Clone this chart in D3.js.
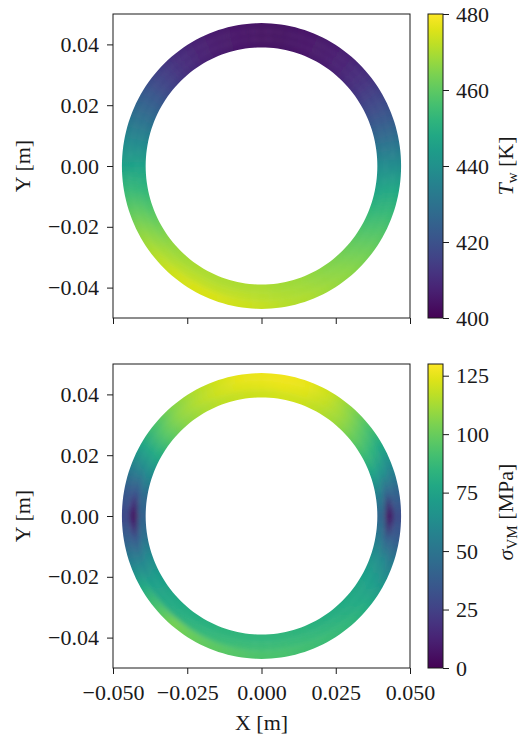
<!DOCTYPE html>
<html>
<head>
<meta charset="utf-8">
<script src="https://cdn.jsdelivr.net/npm/d3@7"></script>
<style>
  body { margin: 0; background: #fff; }
  svg text { font-family: "Liberation Serif", "Times New Roman", Times, serif; fill: #1a1a1a; }
</style>
</head>
<body>
<svg id="fig" width="520" height="738" font-family="Liberation Serif, serif"></svg>
<script>
// Angular positions of the sampled wall values (degrees, clockwise from the +Y axis)
const angles = [0,10,20,30,40,50,60,70,80,90,100,110,120,130,140,150,160,170,
                180,190,200,210,220,230,240,250,260,270,280,290,300,310,320,330,340,350];

// Wall temperature T_w [K] at the inner, middle and outer wall layers
const tempInner = [404,404,405,406,408,411,416,422,430,439,446,452,457,461,464,466,468,469,
                   470,470,470,470,469,467,463,458,452,446,438,430,423,416,411,408,406,405];
const tempMid   = [404,404,405,406,408,411,416,422,430,439,447,453,458,462,465,467,469,470,
                   471,472,472,472,471,469,465,460,453,446,438,430,423,416,411,408,406,405];
const tempOuter = [404,404,405,406,408,411,416,422,430,439,448,454,459,463,466,468,470,471,
                   473,474,475,475,474,471,467,461,454,446,438,430,423,416,411,408,406,405];

// Von Mises stress sigma_VM [MPa] at the same layers
const stressInner = [120,121,120,116,110,100,88,74,55,42,52,66,74,78,80,82,84,85,
                     85,85,84,82,80,77,72,62,48,40,45,62,80,96,107,113,117,119];
const stressMid   = [124,125,123,118,110,98,84,68,42,5,40,62,72,78,82,85,87,88,
                     88,88,87,85,82,78,72,58,36,4,34,58,78,96,108,115,120,123];
const stressOuter = [126,127,125,119,108,94,78,60,42,30,38,55,70,80,85,88,90,92,
                     93,95,97,100,103,92,78,58,40,28,36,55,76,93,106,114,120,125];

// Axis ticks
const xTicks = [-0.05, -0.025, 0, 0.025, 0.05];
const yTicks = [-0.04, -0.02, 0, 0.02, 0.04];
const tempTicks = [400, 420, 440, 460, 480];
const stressTicks = [0, 25, 50, 75, 100, 125];

// Pipe wall geometry [m]
const rInner = 0.039, rOuter = 0.047;
const layerEdges = [0.034, 0.0417, 0.0443, 0.052]; // padded beyond the wall so the clip gives clean edges

const svg = d3.select("#fig");
const defs = svg.append("defs");
defs.append("filter").attr("id", "soft")
  .attr("x", "-10%").attr("y", "-10%").attr("width", "120%").attr("height", "120%")
  .append("feGaussianBlur").attr("stdDeviation", 2.5);

const plotLeft = 113, plotRight = 410;
const cbX = 428, cbW = 15;
const fontSize = 22;
const serif = '"Liberation Serif", "Times New Roman", Times, serif';

const panels = [
  { key: "temp", top: 14, bottom: 318, layers: [tempInner, tempMid, tempOuter],
    cdomain: [400, 480], cticks: tempTicks, xLabels: false },
  { key: "stress", top: 364, bottom: 668, layers: [stressInner, stressMid, stressOuter],
    cdomain: [0, 130], cticks: stressTicks, xLabels: true }
];

panels.forEach(p => {
  const x = d3.scaleLinear().domain([-0.05, 0.05]).range([plotLeft, plotRight]);
  const y = d3.scaleLinear().domain([-0.05, 0.05]).range([p.bottom, p.top]);
  const color = d3.scaleSequential(d3.interpolateViridis).domain(p.cdomain);
  const pt = (r, deg) => {
    const a = deg * Math.PI / 180;
    return [x(r * Math.sin(a)), y(r * Math.cos(a))];
  };

  // Annulus clip
  const ring = (r, dir) => d3.range(0, 361, 2).map(d => pt(r, dir > 0 ? d : 360 - d));
  const loop = pts => "M" + pts.map(q => q.join(",")).join("L") + "Z";
  defs.append("clipPath").attr("id", "clip-" + p.key)
    .append("path")
    .attr("clip-rule", "evenodd")
    .attr("d", loop(ring(rOuter, 1)) + loop(ring(rInner, -1)));

  const field = svg.append("g").attr("clip-path", `url(#clip-${p.key})`)
    .append("g").attr("filter", "url(#soft)");

  p.layers.forEach((vals, li) => {
    const r0 = layerEdges[li], r1 = layerEdges[li + 1];
    const rm = li === 0 ? (rInner + layerEdges[1]) / 2 : li === 2 ? (layerEdges[2] + rOuter) / 2 : (r0 + r1) / 2;
    angles.forEach((a0, i) => {
      const j = (i + 1) % angles.length;
      const a1 = a0 + ((angles[j] - a0 + 360) % 360);
      const gid = `g-${p.key}-${li}-${i}`;
      const g0 = pt(rm, a0), g1 = pt(rm, a1);
      const grad = defs.append("linearGradient").attr("id", gid)
        .attr("gradientUnits", "userSpaceOnUse")
        .attr("x1", g0[0]).attr("y1", g0[1]).attr("x2", g1[0]).attr("y2", g1[1]);
      grad.append("stop").attr("offset", 0).attr("stop-color", color(vals[i]));
      grad.append("stop").attr("offset", 1).attr("stop-color", color(vals[j]));
      const s0 = a0 - 0.4, s1 = a1 + 0.4;
      const outer = d3.range(0, 7).map(k => pt(r1, s0 + (s1 - s0) * k / 6));
      const inner = d3.range(0, 7).map(k => pt(r0, s1 - (s1 - s0) * k / 6));
      field.append("path")
        .attr("d", loop(outer.concat(inner)))
        .attr("fill", `url(#${gid})`);
    });
  });

  // Axes
  const yAxis = d3.axisLeft(y).tickValues(yTicks).tickFormat(d3.format(".2f"))
    .tickSizeInner(6).tickSizeOuter(0).tickPadding(8);
  const gy = svg.append("g").attr("transform", `translate(${plotLeft},0)`).call(yAxis);
  const xAxis = d3.axisBottom(x).tickValues(xTicks).tickFormat(p.xLabels ? d3.format(".3f") : () => "")
    .tickSizeInner(6).tickSizeOuter(0).tickPadding(10);
  const gx = svg.append("g").attr("transform", `translate(0,${p.bottom})`).call(xAxis);
  [gx, gy].forEach(g => {
    g.attr("font-family", serif);
    g.select(".domain").remove();
    g.selectAll(".tick line").attr("stroke", "#1a1a1a").attr("stroke-width", 1);
    g.selectAll(".tick text").attr("font-size", fontSize).attr("fill", "#1a1a1a")
      .style("font-family", serif);
  });

  svg.append("rect")
    .attr("x", plotLeft).attr("y", p.top)
    .attr("width", plotRight - plotLeft).attr("height", p.bottom - p.top)
    .attr("fill", "none").attr("stroke", "#1a1a1a").attr("stroke-width", 1);

  const cy = (p.top + p.bottom) / 2;
  svg.append("text")
    .attr("transform", `translate(30,${cy}) rotate(-90)`)
    .attr("text-anchor", "middle").attr("font-size", fontSize)
    .style("font-family", serif)
    .text("Y [m]");

  // Colour bar
  const cscale = d3.scaleLinear().domain(p.cdomain).range([p.bottom, p.top]);
  const cg = defs.append("linearGradient").attr("id", "cb-" + p.key)
    .attr("x1", 0).attr("y1", 1).attr("x2", 0).attr("y2", 0);
  d3.range(0, 1.0001, 0.05).forEach(t => {
    cg.append("stop").attr("offset", t).attr("stop-color", d3.interpolateViridis(t));
  });
  svg.append("rect")
    .attr("x", cbX).attr("y", p.top).attr("width", cbW).attr("height", p.bottom - p.top)
    .attr("fill", `url(#cb-${p.key})`)
    .attr("stroke", "#1a1a1a").attr("stroke-width", 1);
  const cAxis = d3.axisRight(cscale).tickValues(p.cticks)
    .tickSizeInner(6).tickSizeOuter(0).tickPadding(7);
  const gc = svg.append("g").attr("transform", `translate(${cbX + cbW},0)`).call(cAxis);
  gc.attr("font-family", serif);
  gc.select(".domain").remove();
  gc.selectAll(".tick line").attr("stroke", "#1a1a1a").attr("stroke-width", 1);
  gc.selectAll(".tick text").attr("font-size", fontSize).attr("fill", "#1a1a1a")
    .style("font-family", serif);

  const lab = svg.append("text")
    .attr("transform", `translate(513,${p.key === "temp" ? cy : cy - 4}) rotate(-90)`)
    .attr("text-anchor", "middle").attr("font-size", fontSize)
    .style("font-family", serif);
  if (p.key === "temp") {
    lab.append("tspan").attr("font-style", "italic").text("T");
    lab.append("tspan").attr("font-size", 15).attr("dy", 4).text("w");
    lab.append("tspan").attr("dy", -4).text(" [K]");
  } else {
    lab.append("tspan").attr("font-style", "italic").text("σ");
    lab.append("tspan").attr("font-size", 15).attr("dy", 4).text("VM");
    lab.append("tspan").attr("dy", -4).text(" [MPa]");
  }

  if (p.xLabels) {
    svg.append("text")
      .attr("x", (plotLeft + plotRight) / 2).attr("y", 730)
      .attr("text-anchor", "middle").attr("font-size", fontSize)
      .style("font-family", serif)
      .text("X [m]");
  }
});
</script>
</body>
</html>
